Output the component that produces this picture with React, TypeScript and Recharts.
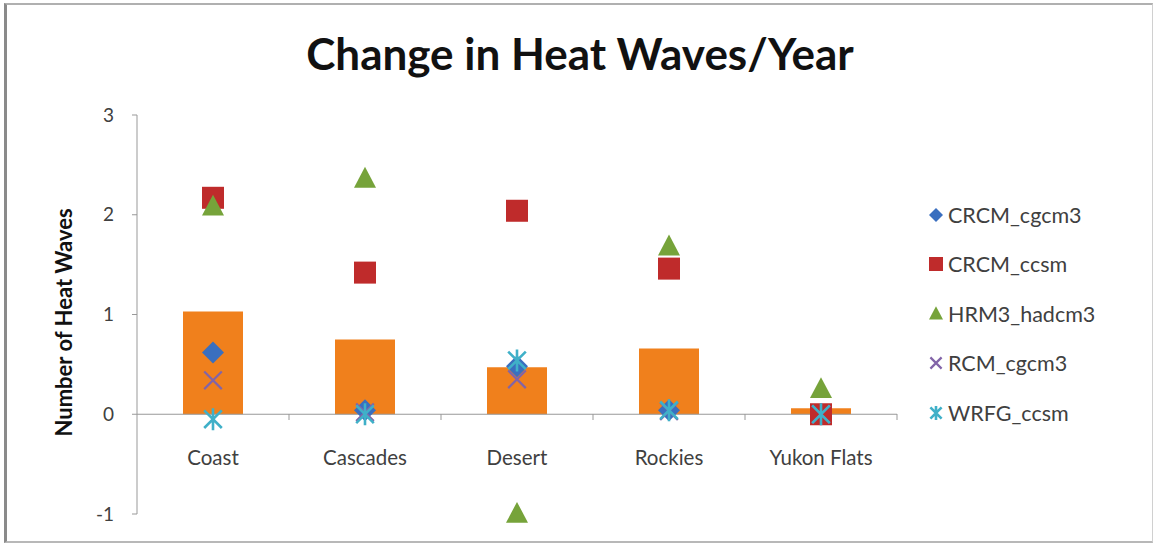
import { Bar, ComposedChart, ReferenceLine, Scatter, XAxis, YAxis } from "recharts";

// regions along the x axis
const regions = ["Coast", "Cascades", "Desert", "Rockies", "Yukon Flats"];

// orange bars (ensemble mean)
const meanChange = [1.03, 0.75, 0.47, 0.66, 0.06];

// individual model runs
const crcmCgcm3 = [0.62, 0.04, 0.48, 0.04, 0.0];
const crcmCcsm = [2.17, 1.42, 2.04, 1.46, 0.0];
const hrm3Hadcm3 = [2.08, 2.36, -1.0, 1.68, 0.25];
const rcmCgcm3 = [0.34, 0.02, 0.35, 0.03, 0.0];
const wrfgCcsm = [-0.05, 0.0, 0.54, 0.04, 0.0];

const yTicks = [-1, 0, 1, 2, 3];

const FONT = "Lato, 'Open Sans', sans-serif";
const TEXT = "#404040";

const data = regions.map((region, i) => ({
  region,
  mean: meanChange[i],
  crcmCgcm3: crcmCgcm3[i],
  crcmCcsm: crcmCcsm[i],
  hrm3Hadcm3: hrm3Hadcm3[i],
  rcmCgcm3: rcmCgcm3[i],
  wrfgCcsm: wrfgCcsm[i],
}));

type Kind = "diamond" | "square" | "triangle" | "x" | "star";

function Marker({ kind, cx, cy, color, r }: { kind: Kind; cx: number; cy: number; color: string; r: number }) {
  if (kind === "diamond")
    return <path d={`M${cx},${cy - r} L${cx + r},${cy} L${cx},${cy + r} L${cx - r},${cy} Z`} fill={color} />;
  if (kind === "square") return <rect x={cx - r} y={cy - r} width={r * 2} height={r * 2} fill={color} />;
  if (kind === "triangle")
    return <path d={`M${cx},${cy - r * 1.1} L${cx + r},${cy + r * 0.8} L${cx - r},${cy + r * 0.8} Z`} fill={color} />;
  if (kind === "x")
    return (
      <path
        d={`M${cx - r * 0.8},${cy - r * 0.8} L${cx + r * 0.8},${cy + r * 0.8} M${cx + r * 0.8},${cy - r * 0.8} L${cx - r * 0.8},${cy + r * 0.8}`}
        stroke={color}
        strokeWidth={2.2}
      />
    );
  return (
    <path
      d={`M${cx - r * 0.8},${cy - r * 0.8} L${cx + r * 0.8},${cy + r * 0.8} M${cx + r * 0.8},${cy - r * 0.8} L${cx - r * 0.8},${cy + r * 0.8} M${cx},${cy - r} L${cx},${cy + r}`}
      stroke={color}
      strokeWidth={2.6}
    />
  );
}

const series: { key: string; name: string; kind: Kind; color: string }[] = [
  { key: "crcmCgcm3", name: "CRCM_cgcm3", kind: "diamond", color: "#3a6fbf" },
  { key: "crcmCcsm", name: "CRCM_ccsm", kind: "square", color: "#bf2b2b" },
  { key: "hrm3Hadcm3", name: "HRM3_hadcm3", kind: "triangle", color: "#76a33a" },
  { key: "rcmCgcm3", name: "RCM_cgcm3", kind: "x", color: "#8264a8" },
  { key: "wrfgCcsm", name: "WRFG_ccsm", kind: "star", color: "#3fb0c8" },
];

// eslint-disable-next-line @typescript-eslint/no-explicit-any
function RegionTick({ x, y, payload }: any) {
  const half = payload?.offset || 76;
  const zeroY = y - 108;
  return (
    <g>
      <line x1={x + half} x2={x + half} y1={zeroY} y2={zeroY + 6} stroke="#999" />
      <text x={x} y={y - 57} textAnchor="middle" fontSize={20.5} fill={TEXT} fontFamily={FONT}>
        {payload.value}
      </text>
    </g>
  );
}

export default function App() {
  return (
    <div
      style={{
        position: "absolute",
        left: 0,
        top: 0,
        width: 1153,
        height: 545,
        background: "#fff",
        fontFamily: FONT,
      }}
    >
      <div
        style={{
          position: "absolute",
          left: 4,
          top: 3,
          width: 1145,
          height: 536,
          borderTop: "2px solid #b0b0b0",
          borderLeft: "3px solid #8a8a8a",
          borderBottom: "2px solid #b8b8b8",
          borderRight: "1px solid #d0d0d0",
        }}
      />
      <div
        style={{
          position: "absolute",
          left: 0,
          top: 27,
          width: 1160,
          textAlign: "center",
          fontSize: 44,
          fontWeight: 700,
          color: "#111",
        }}
      >
        Change in Heat Waves/Year
      </div>

      <ComposedChart
        width={1153}
        height={545}
        data={data}
        margin={{ top: 115, right: 256, bottom: 1, left: 77 }}
        style={{ position: "absolute", left: 0, top: 0 }}
      >
        <XAxis
          dataKey="region"
          height={30}
          axisLine={false}
          tickLine={false}
          tick={<RegionTick />}
          interval={0}
        />
        <YAxis
          width={60}
          domain={[-1, 3]}
          ticks={yTicks}
          stroke="#999"
          tickSize={5}
          tickMargin={18}
          tick={{ fontSize: 19, fill: TEXT, fontFamily: FONT }}
          label={{
            value: "Number of Heat Waves",
            angle: -90,
            position: "insideLeft",
            offset: -13,
            dy: 122,
            style: { fontSize: 22, fontWeight: 700, fill: "#111", fontFamily: FONT },
          }}
        />
        <ReferenceLine y={0} stroke="#999" strokeWidth={1.2} />
        <Bar dataKey="mean" fill="#f0801c" barSize={60} isAnimationActive={false} />
        {series.map((s) => (
          <Scatter
            key={s.key}
            dataKey={s.key}
            name={s.name}
            isAnimationActive={false}
            // eslint-disable-next-line @typescript-eslint/no-explicit-any
            shape={(p: any) => <Marker kind={s.kind} cx={p.cx} cy={p.cy} color={s.color} r={11} />}
          />
        ))}
      </ComposedChart>

      <div style={{ position: "absolute", left: 926, top: 190 }}>
        {series.map((s) => (
          <div key={s.key} style={{ display: "flex", alignItems: "center", height: 49.5 }}>
            <svg width={20} height={20} style={{ marginRight: 2 }}>
              <Marker kind={s.kind} cx={10} cy={10} color={s.color} r={7} />
            </svg>
            <span style={{ fontSize: 21.5, color: TEXT }}>{s.name}</span>
          </div>
        ))}
      </div>
    </div>
  );
}
